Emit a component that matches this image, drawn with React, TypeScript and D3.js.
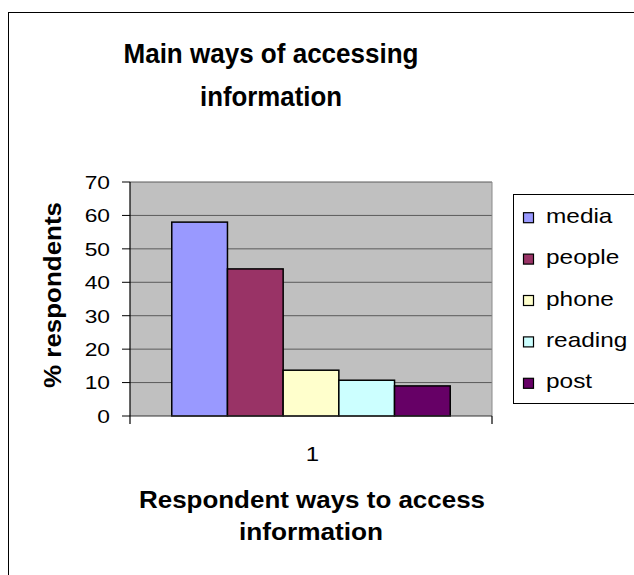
import React from "react";
import * as d3 from "d3";

const categories = ["1"];
const seriesNames = ["media", "people", "phone", "reading", "post"];
const seriesValues = [58, 44, 13.7, 10.7, 9];
const seriesColors = ["#9999FF", "#993366", "#FFFFCC", "#CCFFFF", "#660066"];
const yTicks = [0, 10, 20, 30, 40, 50, 60, 70];
const titleLines = ["Main ways of accessing", "information"];
const xTitleLines = ["Respondent ways to access", "information"];
const yTitle = "% respondents";

const W = 634;
const H = 575;
const FONT = "'Liberation Sans', Arial, sans-serif";

export default function App() {
  const plot = { left: 130, right: 492, top: 182, bottom: 416 };
  const y = d3.scaleLinear().domain([0, 70]).range([plot.bottom, plot.top]);
  const x0 = d3
    .scaleBand<string>()
    .domain(categories)
    .range([plot.left, plot.right])
    .paddingInner(0)
    .paddingOuter(0.15);
  const x1 = d3
    .scaleBand<string>()
    .domain(seriesNames)
    .range([0, x0.bandwidth()])
    .padding(0);

  const legendX = 513.5;
  const legendY = 194.5;
  const legendStep = 41.4;
  const legendFirst = 217.7;

  return (
    <svg
      width={W}
      height={H}
      style={{ position: "absolute", left: 0, top: 0, background: "#fff" }}
    >
      <rect x={0} y={0} width={W} height={H} fill="#fff" />
      {/* outer chart border */}
      <rect x={8.5} y={12.5} width={700} height={700} fill="none" stroke="#000" strokeWidth={1} />

      {/* title */}
      <text
        x={271}
        y={63}
        textAnchor="middle"
        fontFamily={FONT}
        fontWeight="bold"
        fontSize={28}
        textLength={295}
        lengthAdjust="spacingAndGlyphs"
      >
        {titleLines[0]}
      </text>
      <text
        x={271}
        y={106}
        textAnchor="middle"
        fontFamily={FONT}
        fontWeight="bold"
        fontSize={28}
        textLength={142}
        lengthAdjust="spacingAndGlyphs"
      >
        {titleLines[1]}
      </text>

      {/* plot area */}
      <rect
        x={plot.left}
        y={plot.top}
        width={plot.right - plot.left}
        height={plot.bottom - plot.top}
        fill="#C0C0C0"
      />
      {yTicks
        .filter((t) => t > 0)
        .map((t) => (
          <line
            key={"g" + t}
            x1={plot.left}
            x2={plot.right}
            y1={y(t)}
            y2={y(t)}
            stroke="#5a5a5a"
            strokeWidth={1}
          />
        ))}
      <line x1={plot.right} x2={plot.right} y1={plot.top} y2={plot.bottom} stroke="#8a8a8a" strokeWidth={1} />

      {/* bars */}
      {categories.map((c) =>
        seriesNames.map((s, i) => (
          <rect
            key={c + s}
            x={(x0(c) ?? 0) + (x1(s) ?? 0)}
            y={y(seriesValues[i])}
            width={x1.bandwidth()}
            height={plot.bottom - y(seriesValues[i])}
            fill={seriesColors[i]}
            stroke="#000"
            strokeWidth={1.5}
          />
        ))
      )}

      {/* axes */}
      <line x1={plot.left} x2={plot.right} y1={plot.bottom} y2={plot.bottom} stroke="#333" strokeWidth={1.2} />
      <line x1={plot.left} x2={plot.left} y1={plot.top} y2={plot.bottom + 8} stroke="#000" strokeWidth={1.2} />
      <line x1={plot.right} x2={plot.right} y1={plot.bottom} y2={plot.bottom + 8} stroke="#000" strokeWidth={1.2} />
      {yTicks.map((t) => (
        <g key={"t" + t}>
          <line x1={plot.left - 8} x2={plot.left} y1={y(t)} y2={y(t)} stroke="#000" strokeWidth={1} />
          <text
            transform={`translate(110,${y(t) + 6.8}) scale(1.2,1)`}
            textAnchor="end"
            fontFamily={FONT}
            fontSize={19}
          >
            {t}
          </text>
        </g>
      ))}
      {categories.map((c) => (
        <text
          key={"x" + c}
          transform={`translate(${(x0(c) ?? 0) + x0.bandwidth() / 2 + 1.5},461) scale(1.2,1)`}
          textAnchor="middle"
          fontFamily={FONT}
          fontSize={20}
        >
          {c}
        </text>
      ))}

      {/* axis titles */}
      <text
        x={312}
        y={508}
        textAnchor="middle"
        fontFamily={FONT}
        fontWeight="bold"
        fontSize={23}
        textLength={346}
        lengthAdjust="spacingAndGlyphs"
      >
        {xTitleLines[0]}
      </text>
      <text
        x={311}
        y={540}
        textAnchor="middle"
        fontFamily={FONT}
        fontWeight="bold"
        fontSize={23}
        textLength={144}
        lengthAdjust="spacingAndGlyphs"
      >
        {xTitleLines[1]}
      </text>
      <text
        transform="translate(61,295) rotate(-90)"
        textAnchor="middle"
        fontFamily={FONT}
        fontWeight="bold"
        fontSize={24}
        textLength={186}
        lengthAdjust="spacingAndGlyphs"
      >
        {yTitle}
      </text>

      {/* legend */}
      <rect x={legendX} y={legendY} width={200} height={209} fill="#fff" stroke="#000" strokeWidth={1} />
      {seriesNames.map((s, i) => {
        const cy = legendFirst + i * legendStep;
        return (
          <g key={"l" + s}>
            <rect x={523.5} y={cy - 5} width={10} height={10} fill={seriesColors[i]} stroke="#000" strokeWidth={1.2} />
            <text
              transform={`translate(546,${cy + 5}) scale(1.22,1)`}
              fontFamily={FONT}
              fontSize={20}
            >
              {s}
            </text>
          </g>
        );
      })}
    </svg>
  );
}
